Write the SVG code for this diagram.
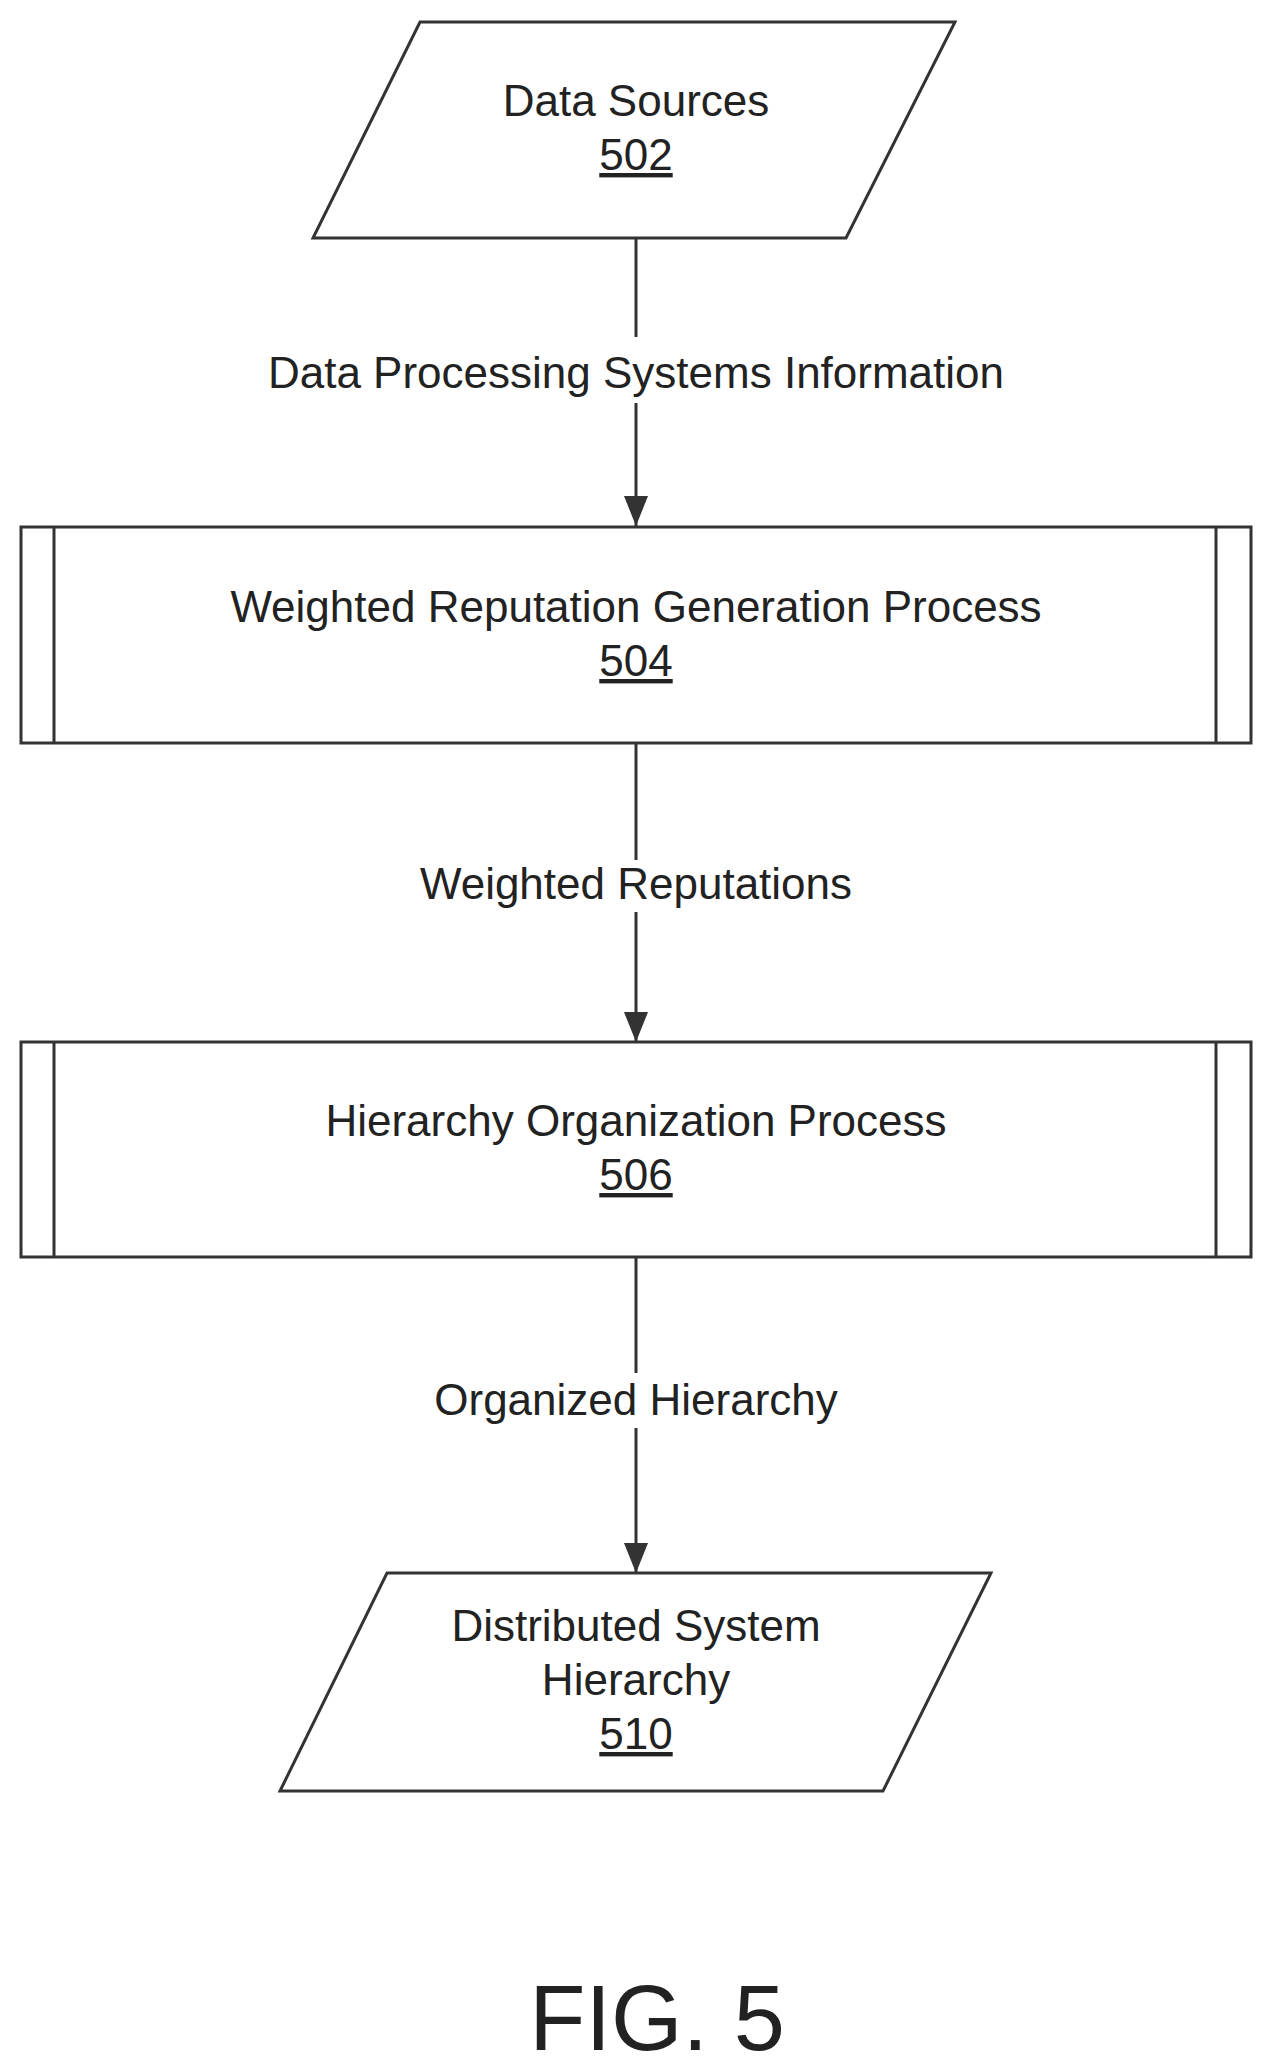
<svg xmlns="http://www.w3.org/2000/svg" width="1269" height="2069" viewBox="0 0 1269 2069">
<style>
.s{fill:#fff;stroke:#333;stroke-width:3}
.l{fill:none;stroke:#333;stroke-width:3}
text{font-family:"Liberation Sans",Arial,sans-serif;font-size:44px;fill:#222;text-anchor:middle}
.u{text-decoration:underline}
</style>
<defs><marker id="a" markerWidth="10" markerHeight="12" refX="8" refY="5" orient="auto" markerUnits="userSpaceOnUse" viewBox="0 0 10 10"><path d="M0,0 L10,5 L0,10 Z" fill="#333"/></marker>
<marker id="ah" viewBox="0 0 30 24" refX="30" refY="12" markerWidth="30" markerHeight="24" orient="auto" markerUnits="userSpaceOnUse"><path d="M0,0 L30,12 L0,24 Z" fill="#333"/></marker></defs>
<rect width="1269" height="2069" fill="#fff"/>
<g id="connectors">
<path class="l" d="M636 238 V337"/><path class="l" d="M636 403 V526" marker-end="url(#ah)"/>
<text x="636" y="388">Data Processing Systems Information</text>
<path class="l" d="M636 743 V860"/><path class="l" d="M636 912 V1042" marker-end="url(#ah)"/>
<text x="636" y="899">Weighted Reputations</text>
<path class="l" d="M636 1257 V1373"/><path class="l" d="M636 1428 V1573" marker-end="url(#ah)"/>
<text x="636" y="1415">Organized Hierarchy</text>
</g>
<g id="n502"><polygon class="s" points="420,22 955,22 846,238 313,238"/><text x="636" y="116">Data Sources</text><text class="u" x="636" y="170">502</text></g>
<g id="n504"><rect class="s" x="21" y="527" width="1230" height="216"/><path class="l" d="M54 527 V743 M1216 527 V743"/><text x="636" y="622">Weighted Reputation Generation Process</text><text class="u" x="636" y="676">504</text></g>
<g id="n506"><rect class="s" x="21" y="1042" width="1230" height="215"/><path class="l" d="M54 1042 V1257 M1216 1042 V1257"/><text x="636" y="1136">Hierarchy Organization Process</text><text class="u" x="636" y="1190">506</text></g>
<g id="n510"><polygon class="s" points="387,1573 991,1573 883,1791 280,1791"/><text x="636" y="1641">Distributed System</text><text x="636" y="1695">Hierarchy</text><text class="u" x="636" y="1749">510</text></g>
<text x="657" y="2050" style="font-size:92px">FIG. 5</text>
</svg>
